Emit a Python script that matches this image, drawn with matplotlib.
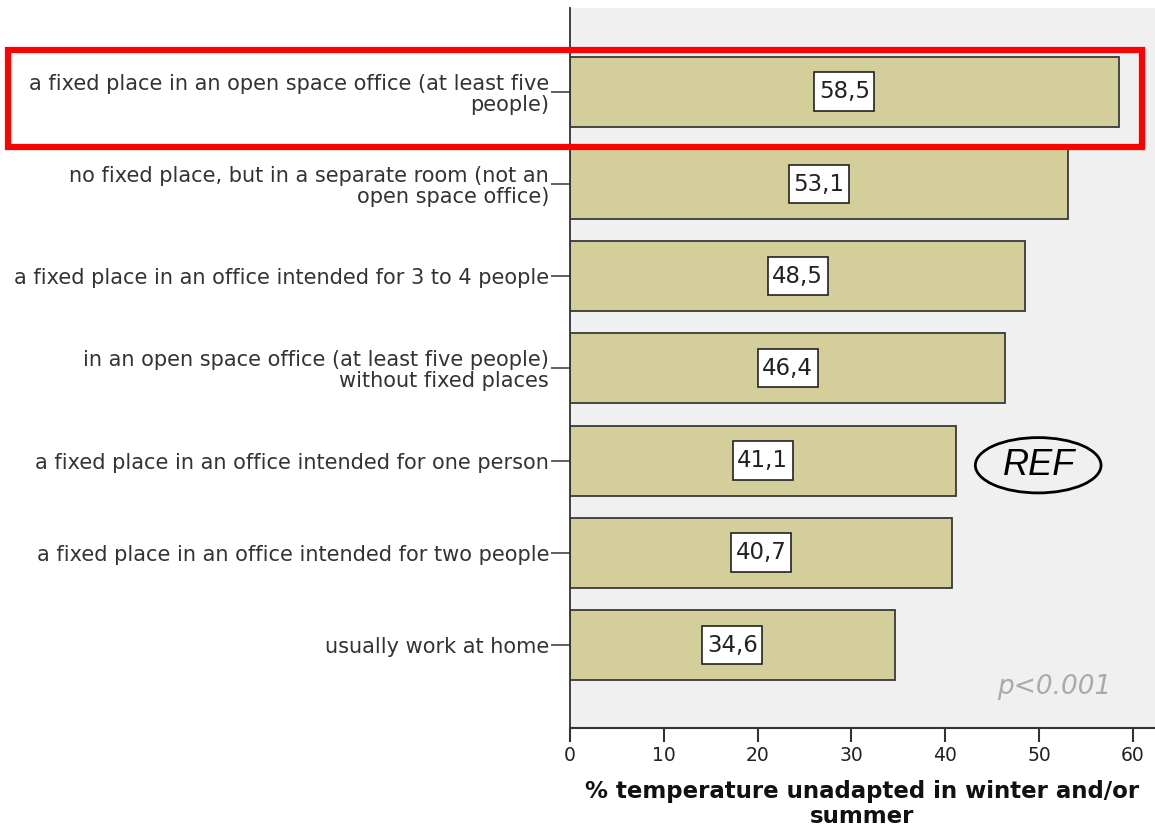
import matplotlib
matplotlib.use("Agg")
import matplotlib.pyplot as plt
from matplotlib.patches import Ellipse, Rectangle
from matplotlib.transforms import ScaledTranslation

categories = [
    "a fixed place in an open space office (at least five\npeople)",
    "no fixed place, but in a separate room (not an\nopen space office)",
    "a fixed place in an office intended for 3 to 4 people",
    "in an open space office (at least five people)\nwithout fixed places",
    "a fixed place in an office intended for one person",
    "a fixed place in an office intended for two people",
    "usually work at home",
]
values = [58.5, 53.1, 48.5, 46.4, 41.1, 40.7, 34.6]
value_labels = ["58,5", "53,1", "48,5", "46,4", "41,1", "40,7", "34,6"]
xticks = [0, 10, 20, 30, 40, 50, 60]
xlabel = "% temperature unadapted in winter and/or\nsummer"

plt.rcParams['font.family'] = ['DejaVu Sans']

fig = plt.figure(figsize=(11.55, 8.27), dpi=100)
ax = fig.add_axes([570/1155, 1-728/827, 1-570/1155, (728-8)/827])
ax.set_facecolor('#f0f0f0')

ypos = list(range(len(categories)))
ax.barh(ypos, values, height=0.76, color='#d4cf9a', edgecolor='#3a3a3a', linewidth=1.3, zorder=2)

ax.set_ylim(len(categories)-1+0.9, -0.91)
ax.set_xlim(0, 62.35)

for y, v, lab in zip(ypos, values, value_labels):
    tr = fig.dpi_scale_trans + ScaledTranslation(v/2, y, ax.transData)
    box = Rectangle((-0.30, -0.19), 0.60, 0.385, transform=tr, facecolor='white',
                    edgecolor='#222222', linewidth=1.2, zorder=3)
    ax.add_artist(box)
    ax.text(v/2, y, lab, ha='center', va='center', fontsize=16.5, color='#222222', zorder=4)

ax.set_yticks(ypos)
ax.set_yticklabels(categories, fontsize=15, color='#333333')
for lbl in ax.get_yticklabels():
    lbl.set_linespacing(1.05)
ax.set_xticks(xticks)
ax.set_xticklabels([str(t) for t in xticks], fontsize=13.5, color='#222222')
ax.tick_params(axis='y', length=14, width=1.2, pad=1, color='#444444')
ax.tick_params(axis='x', length=10, width=1.5, pad=3, color='#333333')
for s in ['top', 'right']:
    ax.spines[s].set_visible(False)
ax.spines['left'].set_color('#333333')
ax.spines['bottom'].set_color('#333333')
ax.spines['left'].set_linewidth(1.3)
ax.spines['bottom'].set_linewidth(1.5)

ax.set_xlabel(xlabel, fontsize=16.5, fontweight='bold', labelpad=11, linespacing=1.08, color='#111111')

ax.text(51.6, 6.46, "p<0.001", fontsize=19, style='italic', color='#aaaaaa', ha='center', va='center')

ell = Ellipse((49.9, 4.05), 13.4, 0.6, facecolor='none', edgecolor='black', linewidth=2, zorder=4)
ax.add_patch(ell)
ax.text(50.0, 4.05, "REF", fontsize=26, style='italic', ha='center', va='center', zorder=5,
        family='Liberation Sans')

rect = Rectangle((8/1155, 1-147/827), 1134/1155, 97/827, transform=fig.transFigure,
                 fill=False, edgecolor='#ff0000', linewidth=4.5, zorder=10)
fig.patches.append(rect)

fig.savefig('out.png', dpi=100, facecolor='white')
